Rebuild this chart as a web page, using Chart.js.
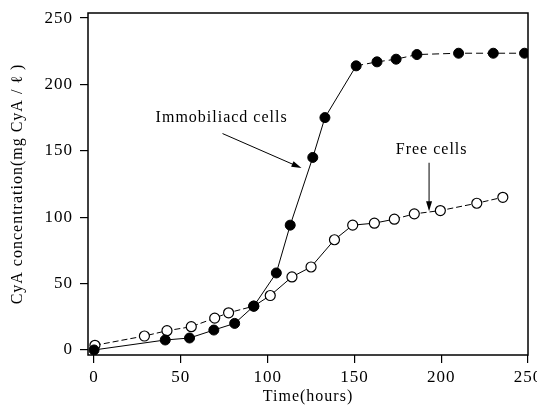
<!DOCTYPE html>
<html>
<head>
  <script src="https://cdn.jsdelivr.net/npm/chart.js"></script>
  <style>
    body { margin: 0; padding: 0; background: #fff; }
    #wrap { width: 537px; height: 405px; }
  </style>
</head>
<body>
  <div id="wrap"><canvas id="cyaChart"></canvas></div>

  <script>
    // values
    const immobTime = [0, 41, 55, 69, 81, 92, 105, 113, 126, 133, 151, 163, 174, 186, 210, 230, 248];
    const immobCyA  = [0, 7.5, 9, 15, 20, 33, 58, 94, 145, 175, 214, 217, 219, 222.5, 223.5, 223.5, 223.5];
    const freeTime  = [0.5, 29, 42, 56, 69.5, 77.5, 92, 101.5, 114, 125, 138.5, 149, 161.5, 173, 184.5, 199.5, 220.5, 235.5];
    const freeCyA   = [3.5, 10.5, 14.5, 17.5, 24, 28, 33, 41, 55, 62.5, 83, 94, 95.5, 98.5, 102.5, 105, 110.5, 115];
    const xTicks = [0, 50, 100, 150, 200, 250];
    const yTicks = [0, 50, 100, 150, 200, 250];

    const toPts = (xs, ys) => xs.map((x, i) => ({ x: x, y: ys[i] }));

    // labels and arrows, in data units
    const notes = [
      { text: 'Immobiliacd cells', at: [73.5, 175], from: [74, 163], to: [119.5, 137] },
      { text: 'Free cells', at: [194.5, 151], from: [193, 141], to: [193, 104.5] }
    ];

    // the scanned figure has loosely spaced type
    const spacing = {
      id: 'spacing',
      beforeLayout(chart) { chart.ctx.letterSpacing = '1px'; },
      beforeDraw(chart) { chart.ctx.letterSpacing = '1px'; }
    };

    const boxAndNotes = {
      id: 'boxAndNotes',
      afterDraw(chart) {
        const { ctx, chartArea: a, scales: { x, y } } = chart;
        ctx.save();
        ctx.strokeStyle = '#000';
        ctx.lineWidth = 1.5;
        ctx.strokeRect(a.left, a.top, a.right - a.left, a.bottom - a.top);

        ctx.fillStyle = '#000';
        ctx.font = '16px "Liberation Serif"';
        ctx.letterSpacing = '1px';
        ctx.textAlign = 'center';
        ctx.textBaseline = 'middle';
        notes.forEach(n => {
          ctx.fillText(n.text, x.getPixelForValue(n.at[0]), y.getPixelForValue(n.at[1]));
          const x0 = x.getPixelForValue(n.from[0]), y0 = y.getPixelForValue(n.from[1]);
          const x1 = x.getPixelForValue(n.to[0]), y1 = y.getPixelForValue(n.to[1]);
          const ang = Math.atan2(y1 - y0, x1 - x0);
          ctx.lineWidth = 1;
          ctx.beginPath();
          ctx.moveTo(x0, y0);
          ctx.lineTo(x1 - 6 * Math.cos(ang), y1 - 6 * Math.sin(ang));
          ctx.stroke();
          ctx.beginPath();
          ctx.moveTo(x1, y1);
          ctx.lineTo(x1 - 10 * Math.cos(ang) + 3 * Math.sin(ang), y1 - 10 * Math.sin(ang) - 3 * Math.cos(ang));
          ctx.lineTo(x1 - 10 * Math.cos(ang) - 3 * Math.sin(ang), y1 - 10 * Math.sin(ang) + 3 * Math.cos(ang));
          ctx.closePath();
          ctx.fill();
        });
        ctx.restore();
      }
    };

    const serif = { family: '"Liberation Serif", "DejaVu Serif", serif', size: 17 };

    new Chart(document.getElementById('cyaChart'), {
      type: 'line',
      data: {
        datasets: [
          {
            label: 'Immobilized cells',
            data: toPts(immobTime, immobCyA),
            borderColor: '#000',
            borderWidth: 1,
            backgroundColor: '#000',
            pointBackgroundColor: '#000',
            pointBorderColor: '#000',
            pointRadius: 5,
            pointBorderWidth: 1,
            tension: 0,
            order: 0,
            segment: {
              borderDash: ctx => ctx.p0.parsed.x >= 150 ? [7, 4] : undefined
            }
          },
          {
            label: 'Free cells',
            data: toPts(freeTime, freeCyA),
            borderColor: '#000',
            borderWidth: 1,
            pointBackgroundColor: '#fff',
            pointBorderColor: '#000',
            pointRadius: 5,
            pointBorderWidth: 1.2,
            tension: 0,
            order: 1,
            segment: {
              borderDash: ctx => (ctx.p0.parsed.x < 90 || ctx.p0.parsed.x >= 170) ? [6, 3] : undefined
            }
          }
        ]
      },
      options: {
        responsive: true,
        maintainAspectRatio: false,
        animation: false,
        layout: { padding: { top: 13, right: 9, left: 0, bottom: 0 } },
        plugins: { legend: { display: false }, tooltip: { enabled: false } },
        scales: {
          x: {
            type: 'linear',
            min: -3.5,
            max: 250,
            afterBuildTicks: s => { s.ticks = xTicks.map(v => ({ value: v })); },
            afterFit: s => { s.height = 50; s.paddingLeft = 0; s.paddingRight = 0; },
            border: { display: false },
            grid: { drawOnChartArea: false, drawTicks: true, tickLength: 8, color: '#000', lineWidth: 1.2 },
            ticks: { color: '#000', font: serif, padding: 4, maxRotation: 0 },
            title: {
              display: true, text: 'Time(hours)', color: '#000',
              font: { family: serif.family, size: 16, lineHeight: 1 }, padding: { top: 0, bottom: 0 }
            }
          },
          y: {
            min: -3.8,
            max: 253.8,
            afterBuildTicks: s => { s.ticks = yTicks.map(v => ({ value: v })); },
            afterFit: s => { s.width = 88; s.paddingTop = 0; s.paddingBottom = 0; },
            border: { display: false },
            grid: { drawOnChartArea: false, drawTicks: true, tickLength: 8, color: '#000', lineWidth: 1.2 },
            ticks: { color: '#000', font: serif, padding: 7 },
            title: {
              display: true, text: 'CyA concentration(mg CyA / ℓ )', color: '#000',
              font: { family: serif.family, size: 16, lineHeight: 1 }, padding: { top: 10, bottom: 0 }
            }
          }
        }
      },
      plugins: [spacing, boxAndNotes]
    });
  </script>
</body>
</html>
